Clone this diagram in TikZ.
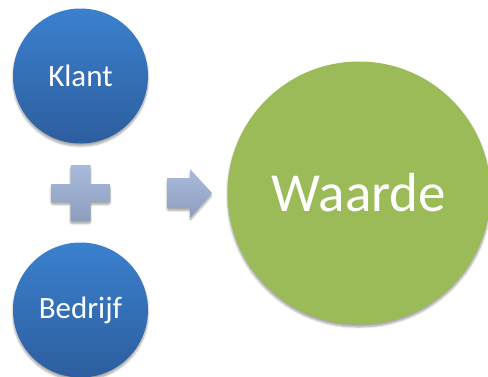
\documentclass[tikz,border=0pt]{standalone}
\usepackage{fontspec}
\setmainfont{Carlito}
\usetikzlibrary{calc,shadows.blur}
\definecolor{bluetop}{HTML}{3B80CE}
\definecolor{bluebot}{HTML}{2D5E9E}
\definecolor{greenfill}{HTML}{9BBB59}
\definecolor{greytop}{HTML}{A9BBDD}
\definecolor{greybot}{HTML}{8D9DBC}
\tikzset{
  softshadow/.style={blur shadow={shadow xshift=0pt, shadow yshift=-2.5pt, shadow blur steps=6, shadow opacity=35, shadow blur extra rounding=1.5pt}},
  bluecircle/.style={circle, minimum size=135pt, inner sep=0pt, top color=bluetop, bottom color=bluebot, draw=none, text=white, font=\fontsize{31}{33}\selectfont, softshadow},
  greencircle/.style={circle, minimum size=263pt, inner sep=0pt, fill=greenfill, draw=none, text=white, font=\fontsize{55}{58}\selectfont, softshadow},
  greyshape/.style={top color=greytop, bottom color=greybot, draw=none, softshadow}
}
\begin{document}
\begin{tikzpicture}[x=1pt,y=-1pt]
\useasboundingbox (0,0) rectangle (488,376);
\node[bluecircle] (klant) at (80.5,76) {Klant};
\node[bluecircle] (bedrijf) at (80.5,310) {Bedrijf};
\node[greencircle] (waarde) at (359,193) {Waarde};
\coordinate (plus) at (80.5,193);
\path[greyshape] ($(plus)+(-10,-28)$) -- ++(20,0) -- ++(0,19) -- ++(19.5,0) -- ++(0,18) -- ++(-19.5,0) -- ++(0,19) -- ++(-20,0) -- ++(0,-19) -- ++(-19.5,0) -- ++(0,-18) -- ++(19.5,0) -- cycle;
\coordinate (arrow) at (167,193);
\path[greyshape] ($(arrow)+(0,-15)$) -- ++(23,0) -- ++(0,-9) -- (212,193) -- (190,218) -- ++(0,-10) -- ++(-23,0) -- cycle;
\end{tikzpicture}
\end{document}
